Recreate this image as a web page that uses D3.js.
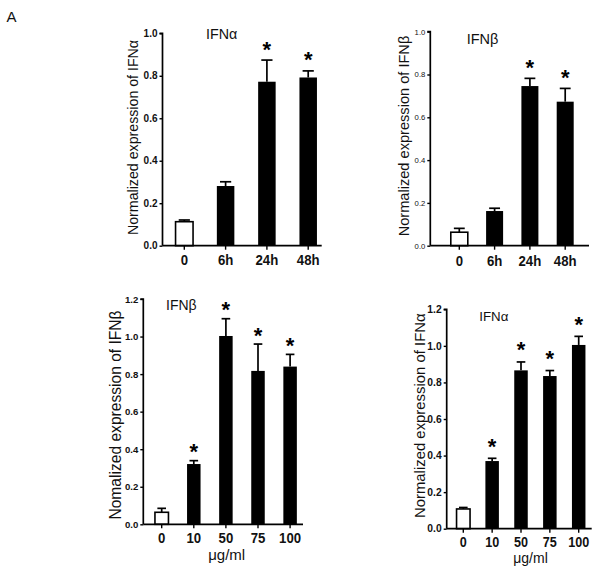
<!DOCTYPE html>
<html><head><meta charset="utf-8">
<script src="https://cdnjs.cloudflare.com/ajax/libs/d3/7.8.5/d3.min.js"></script>
<style>
html,body{margin:0;padding:0;background:#fff;}
svg{display:block;font-family:"Liberation Sans",Arial,sans-serif;}
</style></head>
<body>
<svg id="c" width="604" height="577"></svg>
<script>
// ---- data ----
const timeCats = ["0", "6h", "24h", "48h"];
const doseCats = ["0", "10", "50", "75", "100"];

const ifnaTimeMean = [0.113, 0.281, 0.772, 0.792];
const ifnaTimeErr  = [0.008, 0.020, 0.102, 0.031];
const ifnaTimeSig  = [false, false, true, true];

const ifnbTimeMean = [0.063, 0.162, 0.746, 0.673];
const ifnbTimeErr  = [0.018, 0.013, 0.036, 0.062];
const ifnbTimeSig  = [false, false, true, true];

const ifnbDoseMean = [0.064, 0.321, 1.003, 0.817, 0.840];
const ifnbDoseErr  = [0.021, 0.018, 0.092, 0.143, 0.065];
const ifnbDoseSig  = [false, true, true, true, true];

const ifnaDoseMean = [0.108, 0.370, 0.866, 0.835, 1.005];
const ifnaDoseErr  = [0.008, 0.015, 0.046, 0.030, 0.047];
const ifnaDoseSig  = [false, true, true, true, true];

const ticks10 = [0, 0.2, 0.4, 0.6, 0.8, 1.0];
const ticks12 = [0, 0.2, 0.4, 0.6, 0.8, 1.0, 1.2];

// ---- layout ----
const panels = [
  {cats: timeCats, mean: ifnaTimeMean, err: ifnaTimeErr, sig: ifnaTimeSig, ticks: ticks10, ymax: 1.0,
   title: "IFN\u03b1", ylabel: "Normalized expression of IFN\u03b1", xlabel: null,
   L: 162.5, R: 321.7, y0: 245.7, yT: 33.3, c0: 184.3, step: 41.3, bw: 17.5,
   ytf: 10, ytw: "bold", xtf: 13.2, xtb: 265, ylx: 133.3, lly: 137.5, ylf: 14.2,
   tx: 206, ty: 39, tf: 14.3, starOff: 16},
  {cats: timeCats, mean: ifnbTimeMean, err: ifnbTimeErr, sig: ifnbTimeSig, ticks: ticks10, ymax: 1.0,
   title: "IFN\u03b2", ylabel: "Normalized expression of IFN\u03b2", xlabel: null,
   L: 430.3, R: 589, y0: 245.7, yT: 31.7, c0: 459.3, step: 35.3, bw: 17,
   ytf: 7.7, ytw: "normal", xtf: 13.2, xtb: 266, ylx: 403.3, lly: 136, ylf: 14.6,
   tx: 466.7, ty: 44.3, tf: 14.5, starOff: 15.5},
  {cats: doseCats, mean: ifnbDoseMean, err: ifnbDoseErr, sig: ifnbDoseSig, ticks: ticks12, ymax: 1.2,
   title: "IFN\u03b2", ylabel: "Nomalized expression of IFN\u03b2", xlabel: "\u03bcg/ml",
   L: 143.3, R: 303, y0: 524.3, yT: 299, c0: 161.7, step: 32.1, bw: 13.5,
   ytf: 9.6, ytw: "bold", xtf: 13.2, xtb: 543.3, ylx: 115, lly: 415, ylf: 15.6,
   tx: 166, ty: 310, tf: 14, starOff: 14, xlx: 226.7, xly: 560, xlf: 15},
  {cats: doseCats, mean: ifnaDoseMean, err: ifnaDoseErr, sig: ifnaDoseSig, ticks: ticks12, ymax: 1.2,
   title: "IFN\u03b1", ylabel: "Normalized expression of IFN\u03b1", xlabel: "\u03bcg/ml",
   L: 446.7, R: 591.7, y0: 528.7, yT: 309.3, c0: 463.3, step: 28.85, bw: 13.5,
   ytf: 10.3, ytw: "bold", xtf: 12.6, xtb: 546.5, ylx: 420, lly: 415.7, ylf: 14.9,
   tx: 479.3, ty: 320.7, tf: 13.3, starOff: 17, xlx: 530.5, xly: 563.3, xlf: 14}
];

const svg = d3.select("#c");
svg.append("text").attr("x", 6.5).attr("y", 22).attr("font-size", 15).attr("fill", "#111").text("A");

const starFs = 22;
const stretch = 1.15;

panels.forEach(p => {
  const g = svg.append("g");
  const n = p.cats.length;
  const pad = 1 - p.bw / p.step;
  const x = d3.scaleBand().domain(p.cats)
    .range([p.c0 - p.step / 2, p.c0 + (n - 0.5) * p.step])
    .paddingInner(pad).paddingOuter(pad / 2);
  const y = d3.scaleLinear().domain([0, p.ymax]).range([p.y0, p.yT]);

  const data = p.cats.map((c, i) => ({c, m: p.mean[i], e: p.err[i], s: p.sig[i], i}));
  // error bars (upper only)
  data.forEach(d => {
    const cx = x(d.c) + x.bandwidth() / 2;
    g.append("line").attr("x1", cx).attr("x2", cx).attr("y1", y(d.m)).attr("y2", y(d.m + d.e))
      .attr("stroke", "#000").attr("stroke-width", 1.7);
    const cw = x.bandwidth() * 0.32;
    g.append("line").attr("x1", cx - cw).attr("x2", cx + cw).attr("y1", y(d.m + d.e)).attr("y2", y(d.m + d.e))
      .attr("stroke", "#000").attr("stroke-width", 1.7);
  });
  g.selectAll("rect.bar").data(data).enter().append("rect")
    .attr("x", d => x(d.c)).attr("width", x.bandwidth())
    .attr("y", d => y(d.m)).attr("height", d => y(0) - y(d.m))
    .attr("fill", d => d.i === 0 ? "#fff" : "#000")
    .attr("stroke", "#000").attr("stroke-width", d => d.i === 0 ? 1.6 : 0);
  // stars
  data.filter(d => d.s).forEach(d => {
    const cx = x(d.c) + x.bandwidth() / 2;
    g.append("text").attr("x", cx).attr("y", y(d.m + d.e) - p.starOff + 0.57 * starFs)
      .attr("text-anchor", "middle").attr("font-size", starFs).attr("font-weight", "bold")
      .attr("fill", "#000").text("*");
  });

  // y axis
  const ya = d3.axisLeft(y).tickValues(p.ticks).tickFormat(d3.format(".1f")).tickSize(3).tickPadding(2);
  const yg = g.append("g").attr("transform", `translate(${p.L},0)`).call(ya);
  yg.select(".domain").attr("stroke-width", 1.7).attr("d", `M-3,${y(p.ymax)}H0V${p.y0}`);
  yg.selectAll(".tick line").attr("stroke-width", 1.4);
  yg.selectAll(".tick text").attr("font-size", p.ytf).attr("font-weight", p.ytw)
    .attr("font-family", "Liberation Sans, Arial, sans-serif").attr("fill", "#111");

  // x axis
  const xa = d3.axisBottom(x).tickSize(4).tickPadding(3);
  const xg = g.append("g").attr("transform", `translate(0,${p.y0})`).call(xa);
  xg.select(".domain").attr("stroke-width", 1.7).attr("d", `M${p.L},0H${p.R}`);
  xg.selectAll(".tick line").attr("stroke-width", 1.4);
  xg.selectAll(".tick text").attr("font-size", p.xtf).attr("font-weight", "bold")
    .attr("font-family", "Liberation Sans, Arial, sans-serif").attr("fill", "#111")
    .attr("dy", null).attr("y", 0)
    .attr("transform", `translate(0,${p.xtb - p.y0}) scale(1,${stretch})`);

  // title
  g.append("text").attr("x", p.tx).attr("y", p.ty).attr("font-size", p.tf).attr("fill", "#111").text(p.title);
  // y label
  g.append("text").attr("transform", `translate(${p.ylx + p.ylf * 0.36},${p.lly}) rotate(-90)`)
    .attr("text-anchor", "middle").attr("font-size", p.ylf).attr("fill", "#111").text(p.ylabel);
  // x label
  if (p.xlabel) {
    g.append("text").attr("x", p.xlx).attr("y", p.xly).attr("text-anchor", "middle")
      .attr("font-size", p.xlf).attr("fill", "#111").text(p.xlabel);
  }
});
</script>
</body></html>
